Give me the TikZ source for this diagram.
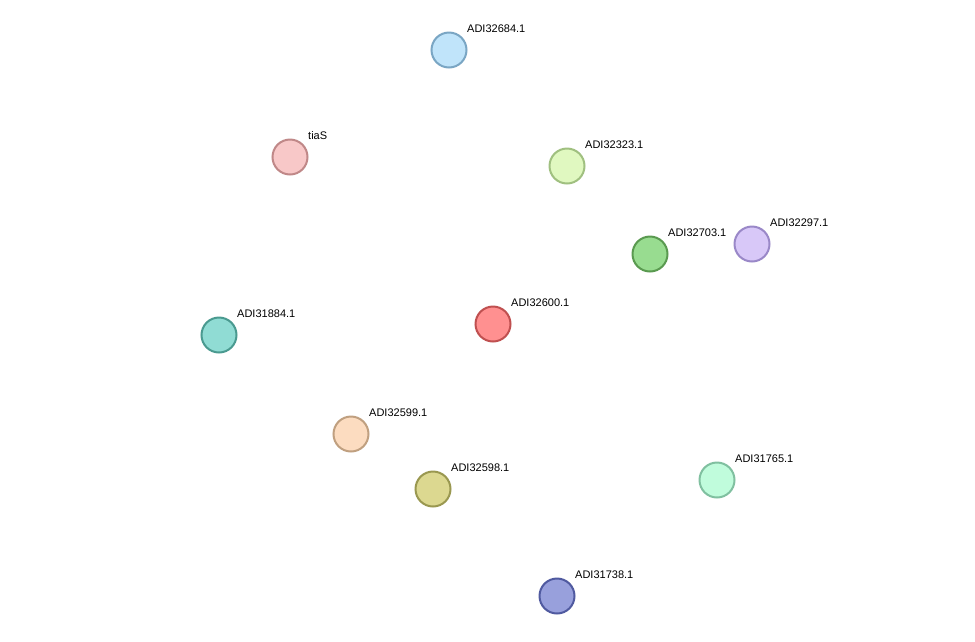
\documentclass[tikz,border=0pt]{standalone}
\usepackage{fontspec}
\setmainfont{Liberation Sans}
\usetikzlibrary{calc,backgrounds}
\definecolor{eb}{HTML}{3333EE}
\definecolor{eg}{HTML}{33CC33}
\definecolor{em}{HTML}{DD33DD}
\definecolor{ey}{HTML}{CCCC33}
\newcommand\edg[4]{\draw[#1,line width=1.3pt] ($(#2.center)!#4!90:(#3.center)$) -- ($(#3.center)!#4!-90:(#2.center)$);}
\newcommand\protn[6]{\definecolor{f#1}{HTML}{#5}\definecolor{d#1}{HTML}{#6}%
  \node[prot,fill=f#1,draw=d#1] (#1) at (#2,#3) {};
  \node[lab] (#1l) at ($(#2,#3)+(18,-21)$) {#4};}
\begin{document}
\begin{tikzpicture}[x=1pt,y=-1pt,
  prot/.style={circle,minimum size=35pt,inner sep=0pt,line width=2pt},
  lab/.style={anchor=west,font=\fontsize{11}{13}\selectfont,inner sep=0pt}]
\fill[white] (0,0) rectangle (975,641);
\protn{a}{449}{50}{ADI32684.1}{C0E4FA}{7AA6C4}
\protn{t}{290}{157}{tiaS}{F8C8C8}{C08888}
\protn{b}{567}{166}{ADI32323.1}{E0F8C0}{A0C080}
\protn{c}{650}{254}{ADI32703.1}{98DC90}{5A9A50}
\protn{d}{752}{244}{ADI32297.1}{D8C8F8}{9A88C8}
\protn{z}{493}{324}{ADI32600.1}{FF9090}{C05050}
\protn{e}{219}{335}{ADI31884.1}{90DCD4}{4A9A90}
\protn{f}{351}{434}{ADI32599.1}{FCDCC0}{C0A080}
\protn{g}{433}{489}{ADI32598.1}{DCD890}{9A9850}
\protn{h}{717}{480}{ADI31765.1}{C0FCDC}{80C0A0}
\protn{i}{557}{596}{ADI31738.1}{98A0DC}{505AA0}
\begin{scope}[on background layer]
\edg{eb}{z}{a}{0pt}
\edg{eg}{z}{t}{-1.5pt}\edg{eb}{z}{t}{1.5pt}
\edg{eb}{z}{b}{-1.5pt}\edg{eg}{z}{b}{1.5pt}
\edg{eb}{b}{c}{1.5pt}\edg{ey}{b}{c}{-1.5pt}
\edg{eb}{z}{c}{0pt}
\edg{eb}{z}{d}{0pt}
\edg{eb}{c}{d}{0pt}
\edg{eg}{z}{e}{3pt}\edg{em}{z}{e}{0pt}\edg{ey}{z}{e}{-3pt}
\edg{eg}{z}{h}{-3pt}\edg{em}{z}{h}{0pt}\edg{ey}{z}{h}{3pt}
\edg{eg}{z}{f}{0pt}
\edg{eg}{z}{g}{0pt}
\edg{eg}{f}{g}{0pt}
\edg{eb}{z}{i}{0pt}
\end{scope}
\end{tikzpicture}
\end{document}
